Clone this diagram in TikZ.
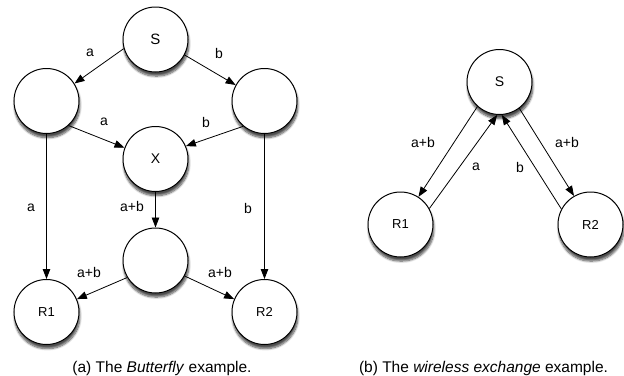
\documentclass[tikz,border=0pt]{standalone}
\usepackage{fontspec}
\setmainfont{Liberation Sans}
\usetikzlibrary{arrows.meta,shadows.blur}

\tikzset{
  netnode/.style={circle, draw=black, line width=1pt, fill=white,
    minimum size=65pt, inner sep=0pt,
    font=\fontsize{13}{15}\selectfont,
    blur shadow={shadow xshift=0.8pt, shadow yshift=-4pt,
      shadow blur steps=8, shadow blur extra rounding=1.5pt, shadow opacity=70}},
  bigtext/.style={font=\fontsize{15}{17}\selectfont},
  midtext/.style={font=\fontsize{14}{16}\selectfont},
  flow/.style={line width=0.8pt, -{Triangle[length=10pt,width=7.5pt]}},
  lbl/.style={inner sep=0pt, font=\fontsize{14}{16}\selectfont},
  capt/.style={inner sep=0pt, font=\fontsize{15.5}{18}\selectfont},
}

\begin{document}
\begin{tikzpicture}[x=1pt, y=-1pt]
\useasboundingbox (0,0) rectangle (624,375);

% Butterfly network
\node[netnode,bigtext] (s)  at (155.5, 39.5) {S};
\node[netnode] (l)  at (46.5, 101) {};
\node[netnode] (r)  at (264.5, 101) {};
\node[netnode,midtext] (x)  at (155.5, 159) {X};
\node[netnode] (m)  at (155.5, 260.5) {};
\node[netnode] (r1) at (46.5, 312) {R1};
\node[netnode] (r2) at (264.5, 312) {R2};

\draw[flow] (s.196) -- (l.32);
\draw[flow] (s.332) -- (r.151);
\draw[flow] (l.-48) -- (x.160);
\draw[flow] (r.230) -- (x.23);
\draw[flow] (l.south) -- (r1.north);
\draw[flow] (r.south) -- (r2.north);
\draw[flow] (x.south) -- (m.north);
\draw[flow] (m.211) -- (r1.23);
\draw[flow] (m.332) -- (r2.157);

\node[lbl] (la1) at (90, 53) {a};
\node[lbl] (lb1) at (219, 53) {b};
\node[lbl] (la2) at (104, 122) {a};
\node[lbl] (lb2) at (206, 122) {b};
\node[lbl] (la3) at (31, 208) {a};
\node[lbl] (lab1) at (132, 206) {a+b};
\node[lbl] (lb3) at (248, 208) {b};
\node[lbl] (lab2) at (89, 272) {a+b};
\node[lbl] (lab3) at (220, 272) {a+b};

\node[capt] (capa) at (162, 368) {(a) The \textit{Butterfly} example.};

% Wireless exchange
\node[netnode,midtext] (ws)  at (499.5, 82) {S};
\node[netnode] (wr1) at (400.5, 224.5) {R1};
\node[netnode] (wr2) at (590.5, 224.5) {R2};

\draw[flow] (ws.228) -- (wr1.57);
\draw[flow] (wr1.29) -- (ws.266);
\draw[flow] (wr2.152) -- (ws.274);
\draw[flow] (ws.307) -- (wr2.120);

\node[lbl] (wab1) at (423, 142) {a+b};
\node[lbl] (wa)   at (476, 167) {a};
\node[lbl] (wb)   at (520, 167) {b};
\node[lbl] (wab2) at (567, 142) {a+b};

\node[capt] (capb) at (483.5, 368) {(b) The \textit{wireless exchange} example.};
\end{tikzpicture}
\end{document}
